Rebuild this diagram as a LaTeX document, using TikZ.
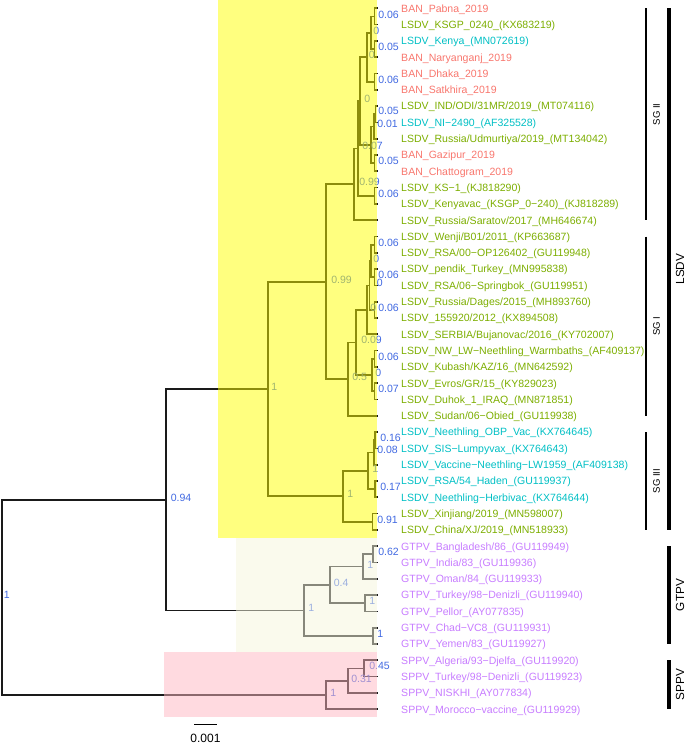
\documentclass[tikz,border=0pt]{standalone}
\usepackage{fontspec}
\setmainfont{Liberation Sans}
\definecolor{banred}{HTML}{F8766D}
\definecolor{lsdvgreen}{HTML}{7CAE00}
\definecolor{vaccyan}{HTML}{00BFC4}
\definecolor{poxpurple}{HTML}{C77CFF}
\definecolor{labblue}{HTML}{4169E1}
\definecolor{hlyellow}{HTML}{FFFF00}
\definecolor{hlbeige}{HTML}{F5F5DC}
\definecolor{hlpink}{HTML}{FFB6C1}
\definecolor{treeline}{HTML}{1A1A1A}
\begin{document}
\begin{tikzpicture}[x=0.75pt,y=-0.75pt,
  branch/.style={draw=treeline,line width=1.3pt,line cap=rect,line join=miter},
  leaf/.style={anchor=west,inner sep=0pt,text height=5.7pt,text depth=0pt,font=\fontsize{7.9pt}{9pt}\selectfont},
  supp/.style={anchor=west,inner sep=0pt,text height=5.7pt,text depth=0pt,text=labblue,font=\fontsize{7.9pt}{9pt}\selectfont},
  sgbar/.style={line width=1.6pt},
  grpbar/.style={line width=3.1pt},
  sglab/.style={rotate=90,inner sep=0pt,font=\fontsize{7.2pt}{8pt}\selectfont},
  grplab/.style={rotate=90,inner sep=0pt,font=\fontsize{8.8pt}{10pt}\selectfont},
  scalelab/.style={inner sep=0pt,font=\fontsize{9pt}{10pt}\selectfont}
]
\useasboundingbox (0,0) rectangle (685,743);

% ---------- leaf tips ----------
\foreach \i in {1,...,44}{\coordinate (l\i) at (376.7,{8.3+(\i-1)*16.3});}

% ---------- internal nodes ----------
% SG II
\coordinate (A) at (374.5,16.45);
\coordinate (B) at (374.5,49.05);
\coordinate (AB) at (371,32.75);
\coordinate (C) at (374.5,81.65);
\coordinate (ABC) at (366.7,57.2);
\coordinate (D) at (375.5,114.25);
\coordinate (D9) at (374,126.475);
\coordinate (E) at (374.5,163.15);
\coordinate (DE) at (371,144.81);
\coordinate (N101) at (360,101.0);
\coordinate (F1) at (374.5,195.75);
\coordinate (F) at (358,148.38);
\coordinate (G) at (354,184.29);
% SG I
\coordinate (c1) at (374.5,244.65);
\coordinate (c2) at (374.5,277.25);
\coordinate (c12) at (371,260.95);
\coordinate (c3) at (374.5,309.85);
\coordinate (c123) at (369.5,285.4);
\coordinate (c1234) at (367,309.85);
\coordinate (c4) at (374.5,358.75);
\coordinate (c5) at (374.5,391.35);
\coordinate (c45) at (372,375.05);
\coordinate (n009) at (356,342.45);
\coordinate (n05) at (348,379.125);
\coordinate (H) at (326,281.71);
% SG III
\coordinate (s1) at (375,440.25);
\coordinate (s2) at (374,452.475);
\coordinate (s3) at (375,489.15);
\coordinate (s23) at (368,470.81);
\coordinate (s4) at (372.5,521.75);
\coordinate (sg3) at (343,496.28);
\coordinate (lsdv) at (268,388.99);
% GTPV
\coordinate (g1) at (373,554.35);
\coordinate (g2) at (363,566.575);
\coordinate (g3) at (365,603.25);
\coordinate (g23) at (330,584.91);
\coordinate (g4) at (373,635.85);
\coordinate (gtpv) at (304,610.38);
\coordinate (N1) at (166,499.69);
% SPPV
\coordinate (p1) at (364,668.45);
\coordinate (p2) at (348,680.675);
\coordinate (sppv) at (326,694.94);
\coordinate (root) at (2,597.3);

% ---------- branches ----------
\draw[branch] (A) |- (l1) (A) |- (l2);
\draw[branch] (B) |- (l3) (B) |- (l4);
\draw[branch] (AB) |- (A) (AB) |- (B);
\draw[branch] (C) |- (l5) (C) |- (l6);
\draw[branch] (ABC) |- (AB) (ABC) |- (C);
\draw[branch] (D) |- (l7) (D) |- (l8);
\draw[branch] (D9) |- (D) (D9) |- (l9);
\draw[branch] (E) |- (l10) (E) |- (l11);
\draw[branch] (DE) |- (D9) (DE) |- (E);
\draw[branch] (N101) |- (ABC) (N101) |- (DE);
\draw[branch] (F1) |- (l12) (F1) |- (l13);
\draw[branch] (F) |- (N101) (F) |- (F1);
\draw[branch] (G) |- (F) (G) |- (l14);
\draw[branch] (c1) |- (l15) (c1) |- (l16);
\draw[branch] (c2) |- (l17) (c2) |- (l18);
\draw[branch] (c12) |- (c1) (c12) |- (c2);
\draw[branch] (c3) |- (l19) (c3) |- (l20);
\draw[branch] (c123) |- (c12) (c123) |- (c3);
\draw[branch] (c1234) |- (c123) (c1234) |- (l21);
\draw[branch] (c4) |- (l22) (c4) |- (l23);
\draw[branch] (c5) |- (l24) (c5) |- (l25);
\draw[branch] (c45) |- (c4) (c45) |- (c5);
\draw[branch] (n009) |- (c1234) (n009) |- (c45);
\draw[branch] (n05) |- (n009) (n05) |- (l26);
\draw[branch] (H) |- (G) (H) |- (n05);
\draw[branch] (s1) |- (l27) (s1) |- (l28);
\draw[branch] (s2) |- (s1) (s2) |- (l29);
\draw[branch] (s3) |- (l30) (s3) |- (l31);
\draw[branch] (s23) |- (s2) (s23) |- (s3);
\draw[branch] (s4) |- (l32) (s4) |- (l33);
\draw[branch] (sg3) |- (s23) (sg3) |- (s4);
\draw[branch] (lsdv) |- (H) (lsdv) |- (sg3);
\draw[branch] (g1) |- (l34) (g1) |- (l35);
\draw[branch] (g2) |- (g1) (g2) |- (l36);
\draw[branch] (g3) |- (l37) (g3) |- (l38);
\draw[branch] (g23) |- (g2) (g23) |- (g3);
\draw[branch] (g4) |- (l39) (g4) |- (l40);
\draw[branch] (gtpv) |- (g23) (gtpv) |- (g4);
\draw[branch] (N1) |- (lsdv) (N1) |- (gtpv);
\draw[branch] (p1) |- (l41) (p1) |- (l42);
\draw[branch] (p2) |- (p1) (p2) |- (l43);
\draw[branch] (sppv) |- (p2) (sppv) |- (l44);
\draw[branch] (root) |- (N1) (root) |- (sppv);

% ---------- support values ----------
\node[supp] (bA) at (378,14.5) {0.06};
\node[supp] (bB) at (378,47) {0.05};
\node[supp] (bAB) at (373,30.5) {0};
\node[supp] (bC) at (378,79.5) {0.06};
\node[supp] (bABC) at (368.5,55) {0};
\node[supp] (bD) at (378,111) {0.05};
\node[supp] (bD9) at (377,124) {0.01};
\node[supp] (bE) at (378,161) {0.05};
\node[supp] (bN101) at (364,98.5) {0};
\node[supp] (bF1) at (378,194) {0.06};
\node[supp] (bF) at (362,145.5) {0.07};
\node[supp] (bG) at (359,181.5) {0.99};
\node[supp] (bc1) at (378,242.5) {0.06};
\node[supp] (bc2) at (378,275) {0.06};
\node[supp] (bc12) at (373,258.5) {0};
\node[supp] (bc3) at (378,307.5) {0.06};
\node[supp] (bc123) at (376.5,283) {0};
\node[supp] (bc1234) at (370,307.5) {0};
\node[supp] (bc4) at (378,356.5) {0.06};
\node[supp] (bc5) at (378,389) {0.07};
\node[supp] (bc45) at (375,373) {0};
\node[supp] (bn009) at (361,340) {0.09};
\node[supp] (bn05) at (352,377) {0.5};
\node[supp] (bH) at (331,279.5) {0.99};
\node[supp] (bs1) at (380,437.5) {0.16};
\node[supp] (bs2) at (377,450) {0.08};
\node[supp] (bs3) at (380,486.5) {0.17};
\node[supp] (bs23) at (372,468.5) {1};
\node[supp] (bs4) at (377,519.5) {0.91};
\node[supp] (bsg3) at (347,494) {1};
\node[supp] (blsdv) at (271,386.5) {1};
\node[supp] (bg1) at (378,552) {0.62};
\node[supp] (bg2) at (367,564.5) {1};
\node[supp] (bg3) at (369,601) {1};
\node[supp] (bg23) at (333.5,582.5) {0.4};
\node[supp] (bg4) at (377,633.5) {1};
\node[supp] (bgtpv) at (308,608) {1};
\node[supp] (bN1) at (170.5,497.5) {0.94};
\node[supp] (bp1) at (369,665.5) {0.45};
\node[supp] (bp2) at (351,678.5) {0.31};
\node[supp] (bsppv) at (330,692.5) {1};
\node[supp] (broot) at (3.5,594.5) {1};

% ---------- clade highlights (drawn over the tree) ----------
\fill[hlyellow,opacity=0.5] (218.3,0) rectangle (376.7,538.1);
\fill[hlbeige,opacity=0.5] (235.7,538.1) rectangle (376.7,652.2);
\fill[hlpink,opacity=0.5] (164,652.2) rectangle (376.7,717.4);

% ---------- tip labels ----------
\node[leaf,text=banred] (t1) at ([xshift=18.2pt]l1) {BAN\_Pabna\_2019};
\node[leaf,text=lsdvgreen] (t2) at ([xshift=18.2pt]l2) {LSDV\_KSGP\_0240\_(KX683219)};
\node[leaf,text=vaccyan] (t3) at ([xshift=18.2pt]l3) {LSDV\_Kenya\_(MN072619)};
\node[leaf,text=banred] (t4) at ([xshift=18.2pt]l4) {BAN\_Naryanganj\_2019};
\node[leaf,text=banred] (t5) at ([xshift=18.2pt]l5) {BAN\_Dhaka\_2019};
\node[leaf,text=banred] (t6) at ([xshift=18.2pt]l6) {BAN\_Satkhira\_2019};
\node[leaf,text=lsdvgreen] (t7) at ([xshift=18.2pt]l7) {LSDV\_IND/ODI/31MR/2019\_(MT074116)};
\node[leaf,text=vaccyan] (t8) at ([xshift=18.2pt]l8) {LSDV\_NI−2490\_(AF325528)};
\node[leaf,text=lsdvgreen] (t9) at ([xshift=18.2pt]l9) {LSDV\_Russia/Udmurtiya/2019\_(MT134042)};
\node[leaf,text=banred] (t10) at ([xshift=18.2pt]l10) {BAN\_Gazipur\_2019};
\node[leaf,text=banred] (t11) at ([xshift=18.2pt]l11) {BAN\_Chattogram\_2019};
\node[leaf,text=lsdvgreen] (t12) at ([xshift=18.2pt]l12) {LSDV\_KS−1\_(KJ818290)};
\node[leaf,text=lsdvgreen] (t13) at ([xshift=18.2pt]l13) {LSDV\_Kenyavac\_(KSGP\_0−240)\_(KJ818289)};
\node[leaf,text=lsdvgreen] (t14) at ([xshift=18.2pt]l14) {LSDV\_Russia/Saratov/2017\_(MH646674)};
\node[leaf,text=lsdvgreen] (t15) at ([xshift=18.2pt]l15) {LSDV\_Wenji/B01/2011\_(KP663687)};
\node[leaf,text=lsdvgreen] (t16) at ([xshift=18.2pt]l16) {LSDV\_RSA/00−OP126402\_(GU119948)};
\node[leaf,text=lsdvgreen] (t17) at ([xshift=18.2pt]l17) {LSDV\_pendik\_Turkey\_(MN995838)};
\node[leaf,text=lsdvgreen] (t18) at ([xshift=18.2pt]l18) {LSDV\_RSA/06−Springbok\_(GU119951)};
\node[leaf,text=lsdvgreen] (t19) at ([xshift=18.2pt]l19) {LSDV\_Russia/Dages/2015\_(MH893760)};
\node[leaf,text=lsdvgreen] (t20) at ([xshift=18.2pt]l20) {LSDV\_155920/2012\_(KX894508)};
\node[leaf,text=lsdvgreen] (t21) at ([xshift=18.2pt]l21) {LSDV\_SERBIA/Bujanovac/2016\_(KY702007)};
\node[leaf,text=lsdvgreen] (t22) at ([xshift=18.2pt]l22) {LSDV\_NW\_LW−Neethling\_Warmbaths\_(AF409137)};
\node[leaf,text=lsdvgreen] (t23) at ([xshift=18.2pt]l23) {LSDV\_Kubash/KAZ/16\_(MN642592)};
\node[leaf,text=lsdvgreen] (t24) at ([xshift=18.2pt]l24) {LSDV\_Evros/GR/15\_(KY829023)};
\node[leaf,text=lsdvgreen] (t25) at ([xshift=18.2pt]l25) {LSDV\_Duhok\_1\_IRAQ\_(MN871851)};
\node[leaf,text=lsdvgreen] (t26) at ([xshift=18.2pt]l26) {LSDV\_Sudan/06−Obied\_(GU119938)};
\node[leaf,text=vaccyan] (t27) at ([xshift=18.2pt]l27) {LSDV\_Neethling\_OBP\_Vac\_(KX764645)};
\node[leaf,text=vaccyan] (t28) at ([xshift=18.2pt]l28) {LSDV\_SIS−Lumpyvax\_(KX764643)};
\node[leaf,text=vaccyan] (t29) at ([xshift=18.2pt]l29) {LSDV\_Vaccine−Neethling−LW1959\_(AF409138)};
\node[leaf,text=vaccyan] (t30) at ([xshift=18.2pt]l30) {LSDV\_RSA/54\_Haden\_(GU119937)};
\node[leaf,text=vaccyan] (t31) at ([xshift=18.2pt]l31) {LSDV\_Neethling−Herbivac\_(KX764644)};
\node[leaf,text=lsdvgreen] (t32) at ([xshift=18.2pt]l32) {LSDV\_Xinjiang/2019\_(MN598007)};
\node[leaf,text=lsdvgreen] (t33) at ([xshift=18.2pt]l33) {LSDV\_China/XJ/2019\_(MN518933)};
\node[leaf,text=poxpurple] (t34) at ([xshift=18.2pt]l34) {GTPV\_Bangladesh/86\_(GU119949)};
\node[leaf,text=poxpurple] (t35) at ([xshift=18.2pt]l35) {GTPV\_India/83\_(GU119936)};
\node[leaf,text=poxpurple] (t36) at ([xshift=18.2pt]l36) {GTPV\_Oman/84\_(GU119933)};
\node[leaf,text=poxpurple] (t37) at ([xshift=18.2pt]l37) {GTPV\_Turkey/98−Denizli\_(GU119940)};
\node[leaf,text=poxpurple] (t38) at ([xshift=18.2pt]l38) {GTPV\_Pellor\_(AY077835)};
\node[leaf,text=poxpurple] (t39) at ([xshift=18.2pt]l39) {GTPV\_Chad−VC8\_(GU119931)};
\node[leaf,text=poxpurple] (t40) at ([xshift=18.2pt]l40) {GTPV\_Yemen/83\_(GU119927)};
\node[leaf,text=poxpurple] (t41) at ([xshift=18.2pt]l41) {SPPV\_Algeria/93−Djelfa\_(GU119920)};
\node[leaf,text=poxpurple] (t42) at ([xshift=18.2pt]l42) {SPPV\_Turkey/98−Denizli\_(GU119923)};
\node[leaf,text=poxpurple] (t43) at ([xshift=18.2pt]l43) {SPPV\_NISKHI\_(AY077834)};
\node[leaf,text=poxpurple] (t44) at ([xshift=18.2pt]l44) {SPPV\_Morocco−vaccine\_(GU119929)};

% ---------- clade bars ----------
\coordinate (sg2a) at (646.2,8.3);   \coordinate (sg2b) at (646.2,220.2);
\coordinate (sg1a) at (646.2,236.5); \coordinate (sg1b) at (646.2,415.8);
\coordinate (sg3a) at (646.2,432.1); \coordinate (sg3b) at (646.2,529.9);
\coordinate (lsa) at (668.8,8.3);    \coordinate (lsb) at (668.8,529.9);
\coordinate (gta) at (668.8,546.2);  \coordinate (gtb) at (668.8,644.0);
\coordinate (spa) at (668.8,660.3);  \coordinate (spb) at (668.8,709.2);
\draw[sgbar] (sg2a) -- (sg2b);
\draw[sgbar] (sg1a) -- (sg1b);
\draw[sgbar] (sg3a) -- (sg3b);
\draw[grpbar] (lsa) -- (lsb);
\draw[grpbar] (gta) -- (gtb);
\draw[grpbar] (spa) -- (spb);
\node[sglab] (lsg2) at (656.5,114.3) {SG II};
\node[sglab] (lsg1) at (656.5,326.2) {SG I};
\node[sglab] (lsg3) at (656.5,481) {SG III};
\node[grplab] (llsdv) at (680,269.1) {LSDV};
\node[grplab] (lgtpv) at (680,595.1) {GTPV};
\node[grplab] (lsppv) at (680,684.8) {SPPV};

% ---------- scale bar ----------
\coordinate (sba) at (194,724.5);
\coordinate (sbb) at (217,724.5);
\draw[line width=1.1pt] (sba) -- (sbb);
\node[scalelab] (sbl) at (205.5,738) {0.001};
\end{tikzpicture}
\end{document}
